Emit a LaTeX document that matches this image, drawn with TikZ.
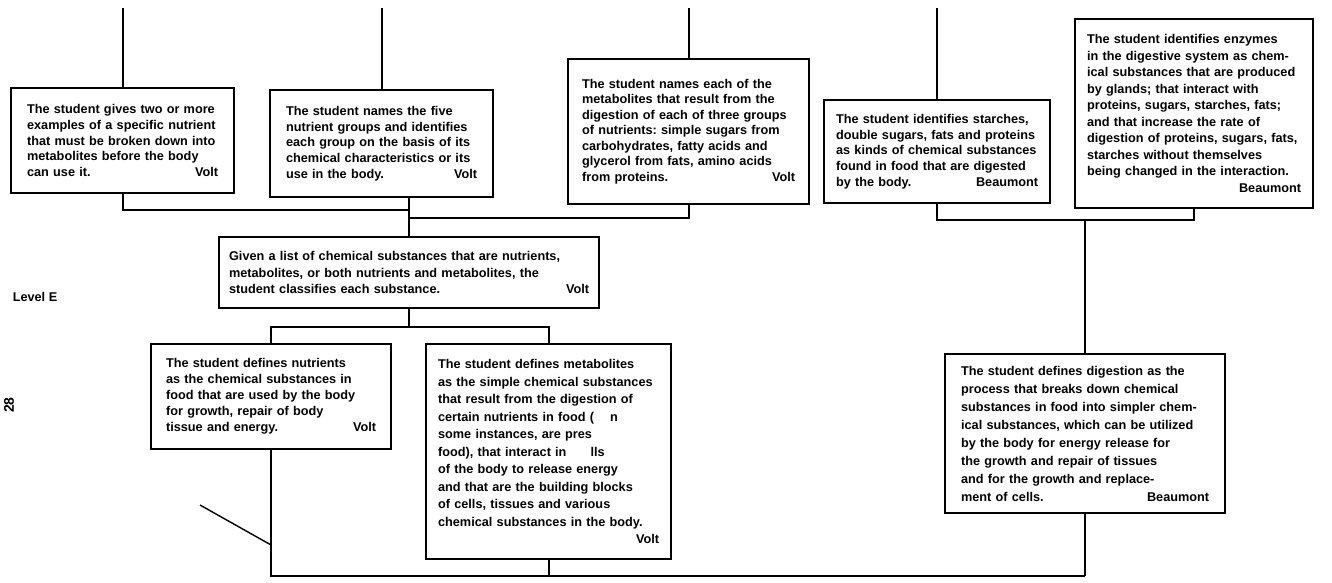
\documentclass[tikz,border=0pt]{standalone}
\usepackage{fontspec}
\setmainfont{Liberation Sans}
\frenchspacing
\newcommand{\sig}[1]{\hspace*{0pt plus 1filll}#1}
\begin{document}
\begin{tikzpicture}[x=1pt,y=-1pt,
  box/.style={draw, line width=2.2pt, anchor=north west, inner xsep=14pt, inner ysep=3pt,
    align=left, font=\fontsize{12.7}{15.8}\selectfont\bfseries},
  lead/.style={font=\fontsize{12.7}{#1}\selectfont\bfseries},
  link/.style={line width=2pt},
  lbl/.style={font=\fontsize{12.7}{14}\selectfont\bfseries}]
\useasboundingbox (0,0) rectangle (1332,582);

% top row
\node[box, inner xsep=16pt, text width=191pt, minimum height=105pt] (A) at (10,87)
 {The student gives two or more\\examples of a specific nutrient\\that must be broken down into\\metabolites before the body\\can use it.\sig{Volt}};
\node[box, inner xsep=16pt, text width=191pt, minimum height=107pt] (B) at (269,89)
 {The student names the five\\nutrient groups and identifies\\each group on the basis of its\\chemical characteristics or its\\use in the body.\sig{Volt}};
\node[box, lead=15.5, text width=213pt, minimum height=145pt] (C) at (567,58)
 {The student names each of the\\metabolites that result from the\\digestion of each of three groups\\of nutrients: simple sugars from\\carbohydrates, fatty acids and\\glycerol from fats, amino acids\\from proteins.\sig{Volt}};
\node[box, inner xsep=12pt, text width=202pt, minimum height=103pt] (D) at (823,99)
 {The student identifies starches,\\double sugars, fats and proteins\\as kinds of chemical substances\\found in food that are digested\\by the body.\sig{Beaumont}};
\node[box, lead=16.5, inner xsep=12pt, text width=214pt, minimum height=189pt] (E) at (1074,18)
 {The student identifies enzymes\\in the digestive system as chem-\\ical substances that are produced\\by glands; that interact with\\proteins, sugars, starches, fats;\\and that increase the rate of\\digestion of proteins, sugars, fats,\\starches without themselves\\being changed in the interaction.\\\sig{Beaumont}};

% middle
\node[box, lead=16.5, inner xsep=10pt, text width=360pt, minimum height=71pt] (Gv) at (218,236)
 {Given a list of chemical substances that are nutrients,\\metabolites, or both nutrients and metabolites, the\\student classifies each substance.\sig{Volt}};

% lower row
\node[box, lead=16, inner xsep=15pt, text width=210pt, minimum height=105pt] (G) at (150,343)
 {The student defines nutrients\\as the chemical substances in\\food that are used by the body\\for growth, repair of body\\tissue and energy.\sig{Volt}};
\node[box, lead=17.5, inner xsep=12pt, text width=221pt, minimum height=215pt] (H) at (425,343)
 {The student defines metabolites\\as the simple chemical substances\\that result from the digestion of\\certain nutrients in food (\hspace{16pt}n\\some instances, are pres\\food), that interact in\hspace{24pt}lls\\of the body to release energy\\and that are the building blocks\\of cells, tissues and various\\chemical substances in the body.\\\sig{Volt}};
\node[box, lead=18, inner xsep=16pt, text width=248pt, minimum height=159pt] (F) at (944,353)
 {The student defines digestion as the\\process that breaks down chemical\\substances in food into simpler chem-\\ical substances, which can be utilized\\by the body for energy release for\\the growth and repair of tissues\\and for the growth and replace-\\ment of cells.\sig{Beaumont}};

% labels
\node[lbl] (lev) at (35,297) {Level E};
\node[lbl, font=\fontsize{14}{14}\selectfont\bfseries, rotate=90] (pg) at (9,405) {28};

% coordinates
\coordinate (tA) at (A.north |- 0,8);
\coordinate (tB) at (B.north |- 0,8);
\coordinate (tC) at (C.north |- 0,8);
\coordinate (tD) at (D.north |- 0,8);
\coordinate (j1) at (Gv.north |- 0,210);
\coordinate (j2) at (Gv.north |- 0,218);
\coordinate (j3) at (Gv.south |- 0,327);
\coordinate (j4) at (F.north |- 0,220);
\coordinate (bot) at (F.south |- 0,576);
\coordinate (s1) at (200,505);
\coordinate (s2) at (G.south |- 0,545);

% connectors
\draw[link] (tA) -- (A.north);
\draw[link] (tB) -- (B.north);
\draw[link] (tC) -- (C.north);
\draw[link] (tD) -- (D.north);
\draw[link] (A.south) |- (j1);
\draw[link] (C.south) |- (j2);
\draw[link] (B.south -| Gv.north) -- (Gv.north);
\draw[link] (Gv.south) -- (j3);
\draw[link] (G.north) |- (j3) -| (H.north);
\draw[link] (D.south) |- (j4) -| (E.south);
\draw[link] (j4) -- (F.north);
\draw[link] (G.south) |- (bot);
\draw[link] (H.south) -- (H.south |- bot);
\draw[link] (F.south) -- (bot);
\draw[line width=1.4pt] (s1) -- (s2);
\end{tikzpicture}
\end{document}
